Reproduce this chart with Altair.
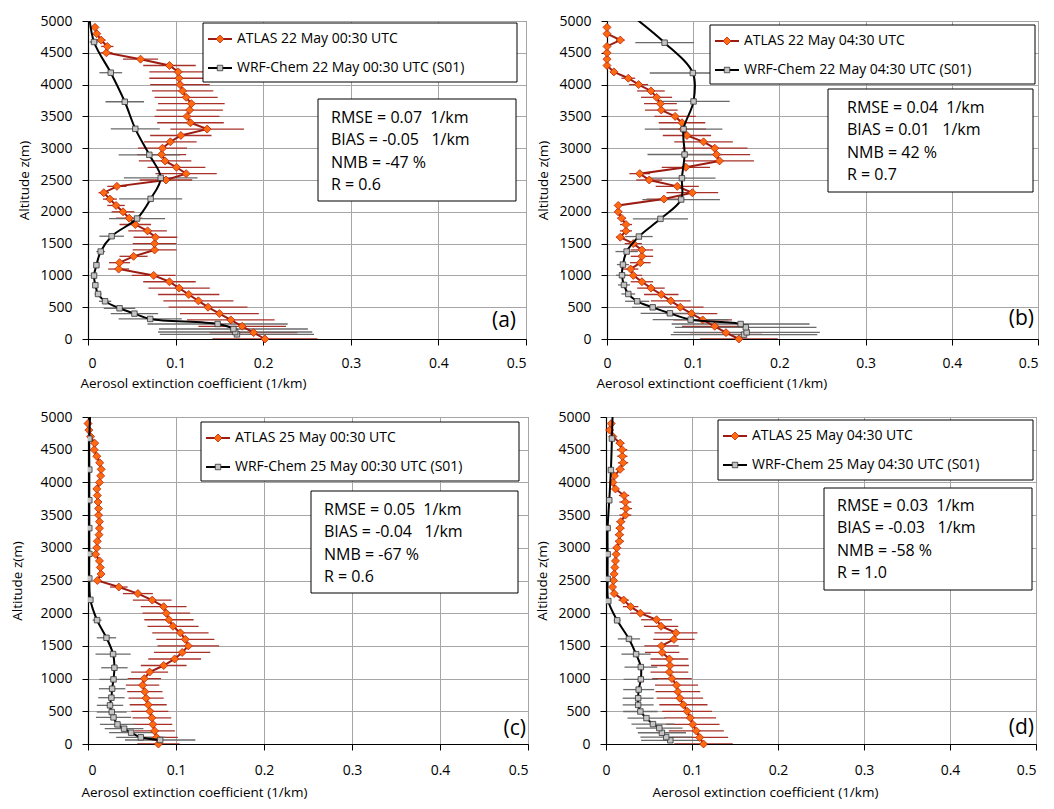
import altair as alt
import pandas as pd

FONT = "Open Sans"

# ---------------- data ----------------
ATLAS_ALT = [0, 100, 200, 300, 400, 500, 600, 700, 800, 900,
             1000, 1100, 1200, 1300, 1400, 1500, 1600, 1700, 1800, 1900,
             2000, 2100, 2200, 2300, 2400, 2500, 2600, 2700, 2800, 2900,
             3000, 3100, 3200, 3300, 3400, 3500, 3600, 3700, 3800, 3900,
             4000, 4100, 4200, 4300, 4400, 4500, 4600, 4700, 4800, 4900]

X_TICKS = [0, 0.1, 0.2, 0.3, 0.4, 0.5]
Y_TICKS = [0, 500, 1000, 1500, 2000, 2500, 3000, 3500, 4000, 4500, 5000]

# (a) 22 May 00:30 UTC
A_ATLAS = [0.202, 0.189, 0.176, 0.163, 0.150, 0.137, 0.126, 0.115, 0.104, 0.093,
           0.075, 0.035, 0.036, 0.052, 0.076, 0.076, 0.077, 0.068, 0.054, 0.047,
           0.040, 0.032, 0.025, 0.018, 0.033, 0.089, 0.112, 0.101, 0.088, 0.084,
           0.085, 0.094, 0.106, 0.136, 0.117, 0.113, 0.116, 0.118, 0.112, 0.108,
           0.105, 0.104, 0.103, 0.093, 0.060, 0.021, 0.022, 0.015, 0.010, 0.008]
A_ATLAS_ERR = [0.060, 0.050, 0.050, 0.050, 0.045, 0.045, 0.040, 0.035, 0.035, 0.030,
               0.025, 0.012, 0.012, 0.016, 0.025, 0.025, 0.025, 0.022, 0.018, 0.015,
               0.013, 0.010, 0.008, 0.006, 0.011, 0.030, 0.035, 0.033, 0.030, 0.028,
               0.028, 0.030, 0.035, 0.042, 0.038, 0.037, 0.038, 0.038, 0.036, 0.035,
               0.034, 0.034, 0.033, 0.030, 0.020, 0.007, 0.007, 0.005, 0.003, 0.003]
A_WRF_ALT = [73, 110, 157, 236, 315, 399, 483, 593, 708, 845, 997, 1160, 1375,
             1616, 1894, 2204, 2534, 2896, 3305, 3730, 4187, 4670, 5200]
A_WRF = [0.170, 0.168, 0.166, 0.148, 0.071, 0.053, 0.036, 0.0195, 0.0115, 0.0084,
         0.0069, 0.0096, 0.0145, 0.027, 0.056, 0.0715, 0.083, 0.070, 0.054, 0.042,
         0.026, 0.0069, 0.0005]
A_WRF_ERR = [0.088, 0.088, 0.085, 0.080, 0.036, 0.027, 0.018, 0.007, 0.004, 0.003,
             0.003, 0.003, 0.005, 0.014, 0.032, 0.036, 0.042, 0.035, 0.028, 0.022,
             0.013, 0.005, 0.0]

# (b) 22 May 04:30 UTC
B_ATLAS = [0.153, 0.138, 0.125, 0.111, 0.098, 0.085, 0.074, 0.063, 0.051, 0.0405,
           0.0305, 0.0274, 0.0386, 0.0405, 0.0405, 0.0305, 0.0154, 0.022, 0.022, 0.017,
           0.013, 0.013, 0.066, 0.099, 0.0815, 0.049, 0.038, 0.0915, 0.1305, 0.127,
           0.125, 0.112, 0.0927, 0.088, 0.087, 0.079, 0.063, 0.062, 0.0575, 0.051,
           0.0367, 0.0247, 0.008, 0.0, 0.0, 0.0, 0.0, 0.0154, 0.0, 0.0]
B_ATLAS_ERR = [0.045, 0.042, 0.038, 0.034, 0.030, 0.027, 0.023, 0.020, 0.016, 0.013,
               0.010, 0.009, 0.012, 0.013, 0.013, 0.010, 0.005, 0.007, 0.007, 0.005,
               0.004, 0.004, 0.020, 0.030, 0.025, 0.015, 0.012, 0.028, 0.040, 0.039,
               0.038, 0.034, 0.028, 0.027, 0.027, 0.024, 0.019, 0.019, 0.018, 0.016,
               0.011, 0.008, 0.003, 0.0, 0.0, 0.0, 0.0, 0.005, 0.0, 0.0]
B_WRF_ALT = [68, 105, 184, 236, 304, 404, 498, 593, 708, 850, 1002, 1170, 1375,
             1611, 1889, 2193, 2529, 2901, 3300, 3735, 4182, 4659, 5200]
B_WRF = [0.159, 0.162, 0.161, 0.155, 0.097, 0.073, 0.053, 0.035, 0.0247, 0.0197,
         0.0174, 0.0185, 0.0228, 0.037, 0.062, 0.086, 0.0869, 0.090, 0.0888, 0.1004,
         0.0996, 0.0668, 0.018]
B_WRF_ERR = [0.085, 0.085, 0.082, 0.080, 0.044, 0.034, 0.024, 0.014, 0.008, 0.007,
             0.007, 0.007, 0.013, 0.016, 0.032, 0.045, 0.039, 0.043, 0.045, 0.042,
             0.050, 0.034, 0.0]

# (c) 25 May 00:30 UTC
C_ATLAS = [0.080, 0.078, 0.0757, 0.0738, 0.0726, 0.0703, 0.0684, 0.066, 0.0646, 0.062,
           0.064, 0.070, 0.086, 0.0985, 0.107, 0.114, 0.1106, 0.105, 0.0966, 0.092,
           0.089, 0.086, 0.073, 0.0567, 0.035, 0.0106, 0.0148, 0.014, 0.013, 0.0087,
           0.010, 0.0106, 0.0125, 0.013, 0.013, 0.012, 0.012, 0.0114, 0.0106, 0.010,
           0.013, 0.0144, 0.015, 0.0133, 0.010, 0.007, 0.0076, 0.003, 0.001, 0.0]
C_ATLAS_ERR = [0.024, 0.024, 0.023, 0.022, 0.022, 0.021, 0.021, 0.020, 0.020, 0.019,
               0.019, 0.021, 0.026, 0.030, 0.032, 0.035, 0.033, 0.032, 0.029, 0.028,
               0.027, 0.026, 0.022, 0.017, 0.010, 0.003, 0.003, 0.003, 0.003, 0.003,
               0.003, 0.003, 0.003, 0.003, 0.003, 0.003, 0.003, 0.003, 0.003, 0.003,
               0.003, 0.003, 0.003, 0.003, 0.003, 0.002, 0.002, 0.001, 0.0, 0.0]
C_WRF_ALT = [61, 102, 173, 234, 300, 407, 489, 591, 708, 845, 988, 1166, 1375,
             1624, 1894, 2205, 2531, 2907, 3300, 3727, 4196, 4669, 5200]
C_WRF = [0.082, 0.060, 0.049, 0.041, 0.0335, 0.029, 0.027, 0.025, 0.0266, 0.0274,
         0.029, 0.030, 0.0285, 0.021, 0.0103, 0.0027, 0.0015, 0.0015, 0.0015, 0.0015,
         0.0015, 0.0015, 0.003]
C_WRF_ERR = [0.040, 0.028, 0.025, 0.022, 0.020, 0.020, 0.017, 0.015, 0.015, 0.015,
             0.016, 0.015, 0.020, 0.011, 0.005, 0.001, 0.0, 0.0, 0.0, 0.0,
             0.0, 0.0, 0.0]

# (d) 25 May 04:30 UTC
D_ATLAS = [0.1134, 0.109, 0.105, 0.101, 0.098, 0.0943, 0.090, 0.0859, 0.0836, 0.082,
           0.0767, 0.0737, 0.0744, 0.0737, 0.0653, 0.0645, 0.079, 0.0813, 0.064, 0.0588,
           0.040, 0.0286, 0.0206, 0.0095, 0.0076, 0.0088, 0.0095, 0.0103, 0.011, 0.0118,
           0.0126, 0.0156, 0.0156, 0.0164, 0.0172, 0.0225, 0.0233, 0.0225, 0.021, 0.011,
           0.008, 0.0099, 0.0164, 0.0198, 0.019, 0.0187, 0.0164, 0.008, 0.0042, 0.0061]
D_ATLAS_ERR = [0.034, 0.033, 0.032, 0.031, 0.030, 0.029, 0.028, 0.027, 0.026, 0.025,
               0.023, 0.022, 0.022, 0.022, 0.020, 0.020, 0.024, 0.025, 0.020, 0.018,
               0.012, 0.009, 0.006, 0.003, 0.002, 0.002, 0.003, 0.003, 0.003, 0.004,
               0.004, 0.005, 0.005, 0.005, 0.005, 0.007, 0.007, 0.007, 0.006, 0.003,
               0.002, 0.003, 0.005, 0.006, 0.006, 0.006, 0.005, 0.002, 0.001, 0.002]
D_WRF_ALT = [56, 106, 172, 243, 304, 396, 497, 598, 700, 832, 989, 1176, 1374,
             1607, 1891, 2186, 2525, 2901, 3301, 3727, 4189, 4670, 5200]
D_WRF = [0.0748, 0.070, 0.065, 0.062, 0.0546, 0.047, 0.040, 0.0374, 0.0374, 0.038,
         0.0405, 0.0405, 0.035, 0.0267, 0.013, 0.0027, 0.0019, 0.0019, 0.0019, 0.0038,
         0.0057, 0.0069, 0.008]
D_WRF_ERR = [0.034, 0.030, 0.028, 0.027, 0.025, 0.022, 0.020, 0.018, 0.018, 0.018,
             0.020, 0.019, 0.017, 0.013, 0.004, 0.001, 0.001, 0.001, 0.001, 0.001,
             0.001, 0.001, 0.0]

LEGEND_A = ["ATLAS 22 May 00:30 UTC", "WRF-Chem 22 May 00:30 UTC (S01)"]
LEGEND_B = ["ATLAS 22 May 04:30 UTC", "WRF-Chem 22 May 04:30 UTC (S01)"]
LEGEND_C = ["ATLAS 25 May 00:30 UTC", "WRF-Chem 25 May 00:30 UTC (S01)"]
LEGEND_D = ["ATLAS 25 May 04:30 UTC", "WRF-Chem 25 May 04:30 UTC (S01)"]

STATS_A = ["RMSE = 0.07  1/km", "BIAS = -0.05   1/km", "NMB = -47 %", "R = 0.6"]
STATS_B = ["RMSE = 0.04  1/km", "BIAS = 0.01   1/km", "NMB = 42 %", "R = 0.7"]
STATS_C = ["RMSE = 0.05  1/km", "BIAS = -0.04   1/km", "NMB = -67 %", "R = 0.6"]
STATS_D = ["RMSE = 0.03  1/km", "BIAS = -0.03   1/km", "NMB = -58 %", "R = 1.0"]

XTITLE_1 = "Aerosol extinction coefficient (1/km)"
XTITLE_2 = "Aerosol extinctiont coefficient (1/km)"
YTITLE = "Altitude z(m)"

# ---------------- styles ----------------
RED_LINE = "#9C1C12"
ORANGE = "#FF6A10"
DIAMOND_STROKE = "#B8260C"
ATLAS_ERR_C = "#A8322A"
WRF_ERR_C = "#6A6A6A"
SQUARE_FILL = "#C4C4C4"

ONE = pd.DataFrame({"k": [0]})

GA = dict(W=438, H=318, tx=-8, lx0=115, lx1=429, ly0=2, ly1=61, ytp=8, xlp=11, xtp=6,
          sx0=230, sx1=428, sy0=78, sy1=180, sty=97, stx=13, tagdx=10, tagdy=12, flush=False)
GB = dict(W=431, H=318, tx=-11, lx0=103, lx1=428, ly0=4, ly1=63, ytp=8, xlp=11, xtp=6,
          sx0=221, sx1=426, sy0=68, sy1=171, sty=87, stx=19, tagdx=4, tagdy=14, flush=True)
GC = dict(W=440, H=327, tx=-7, lx0=113, lx1=431, ly0=5, ly1=64, ytp=15, xlp=13, xtp=8,
          sx0=223, sx1=430, sy0=74, sy1=176, sty=93, stx=13, tagdx=2, tagdy=9, flush=False)
GD = dict(W=430, H=327, tx=46, lx0=112, lx1=427, ly0=3, ly1=63, ytp=8, xlp=13, xtp=8,
          sx0=218, sx1=426, sy0=71, sy1=173, sty=89, stx=13, tagdx=2, tagdy=10, flush=True)


def nb(s):
    return s.replace(" ", "\u00a0")


def panel(atlas, atlas_err, wrf_alt, wrf, wrf_err, legend, stats, tag, xtitle, g):
    W, H = g["W"], g["H"]
    da = pd.DataFrame({
        "alt": ATLAS_ALT, "x": atlas,
        "lo": [v - e for v, e in zip(atlas, atlas_err)],
        "hi": [v + e for v, e in zip(atlas, atlas_err)],
    })
    dw = pd.DataFrame({
        "alt": wrf_alt, "x": wrf,
        "lo": [v - e for v, e in zip(wrf, wrf_err)],
        "hi": [v + e for v, e in zip(wrf, wrf_err)],
    })
    xs = alt.Scale(domain=[0, 0.5], nice=False, zero=False)
    ys = alt.Scale(domain=[0, 5000], nice=False)
    xkw = dict(values=X_TICKS, format="~g", title=xtitle, titleX=g["tx"], titleAlign="left",
               labelPadding=g["xlp"], titlePadding=g["xtp"])
    if g["flush"]:
        xkw["labelAlign"] = {"condition": {"test": "datum.value >= 0.5", "value": "right"},
                             "value": "center"}
    xax = alt.Axis(**xkw)
    yax = alt.Axis(values=Y_TICKS, format="d", title=YTITLE, titlePadding=g["ytp"])

    def X(f):
        return alt.X(f"{f}:Q", scale=xs, axis=xax)

    Y = alt.Y("alt:Q", scale=ys, axis=yax)

    a_err = alt.Chart(da).mark_rule(color=ATLAS_ERR_C, strokeWidth=1.3, clip=True).encode(
        x=X("lo"), x2="hi:Q", y=Y)
    w_err = alt.Chart(dw).mark_rule(color=WRF_ERR_C, strokeWidth=1.3, clip=True).encode(
        x=X("lo"), x2="hi:Q", y=Y)
    a_line = alt.Chart(da).mark_line(color=RED_LINE, strokeWidth=2).encode(
        x=X("x"), y=Y, order="alt:Q")
    a_pts = alt.Chart(da).mark_point(shape="diamond", filled=True, fill=ORANGE,
                                     stroke=DIAMOND_STROKE, strokeWidth=0.8,
                                     size=64, opacity=1).encode(x=X("x"), y=Y)
    w_line = alt.Chart(dw).mark_line(color="black", strokeWidth=2,
                                     interpolate="catmull-rom", clip=True).encode(
        x=X("x"), y=Y, order="alt:Q")
    w_pts = alt.Chart(dw).mark_point(shape="square", filled=True, fill=SQUARE_FILL,
                                     stroke="#333333", strokeWidth=0.8, size=30,
                                     opacity=1, clip=True).encode(x=X("x"), y=Y)

    lx0, lx1, ly0, ly1 = g["lx0"], g["lx1"], g["ly0"], g["ly1"]
    l1, l2 = ly0 + 16, ly0 + 45
    leg = [
        alt.Chart(ONE).mark_rect(fill="white", stroke="black", strokeWidth=1).encode(
            x=alt.value(lx0), x2=alt.value(lx1), y=alt.value(ly0), y2=alt.value(ly1)),
        alt.Chart(ONE).mark_rule(color=RED_LINE, strokeWidth=2).encode(
            x=alt.value(lx0 + 5), x2=alt.value(lx0 + 29), y=alt.value(l1)),
        alt.Chart(ONE).mark_point(shape="diamond", filled=True, fill=ORANGE,
                                  stroke=DIAMOND_STROKE, strokeWidth=0.8, size=64,
                                  opacity=1).encode(x=alt.value(lx0 + 17), y=alt.value(l1)),
        alt.Chart(ONE).mark_text(align="left", baseline="middle", fontSize=14).encode(
            x=alt.value(lx0 + 34), y=alt.value(l1), text=alt.value(legend[0])),
        alt.Chart(ONE).mark_rule(color="black", strokeWidth=2).encode(
            x=alt.value(lx0 + 5), x2=alt.value(lx0 + 29), y=alt.value(l2)),
        alt.Chart(ONE).mark_point(shape="square", filled=True, fill=SQUARE_FILL,
                                  stroke="#333333", strokeWidth=0.8, size=30,
                                  opacity=1).encode(x=alt.value(lx0 + 17), y=alt.value(l2)),
        alt.Chart(ONE).mark_text(align="left", baseline="middle", fontSize=14).encode(
            x=alt.value(lx0 + 34), y=alt.value(l2), text=alt.value(legend[1])),
    ]
    st = [alt.Chart(ONE).mark_rect(fill="white", stroke="black", strokeWidth=1).encode(
        x=alt.value(g["sx0"]), x2=alt.value(g["sx1"]),
        y=alt.value(g["sy0"]), y2=alt.value(g["sy1"]))]
    for i, s in enumerate(stats):
        st.append(alt.Chart(ONE).mark_text(align="left", baseline="middle", fontSize=16).encode(
            x=alt.value(g["sx0"] + g["stx"]), y=alt.value(g["sty"] + i * 22.3),
            text=alt.value(nb(s))))
    tg = alt.Chart(ONE).mark_text(align="right", baseline="alphabetic", fontSize=21).encode(
        x=alt.value(W - g["tagdx"]), y=alt.value(H - g["tagdy"]), text=alt.value(tag))

    return alt.layer(a_err, w_err, a_line, a_pts, w_line, w_pts, *leg, *st, tg).properties(
        width=W, height=H)


pa = panel(A_ATLAS, A_ATLAS_ERR, A_WRF_ALT, A_WRF, A_WRF_ERR, LEGEND_A, STATS_A, "(a)", XTITLE_1, GA)
pb = panel(B_ATLAS, B_ATLAS_ERR, B_WRF_ALT, B_WRF, B_WRF_ERR, LEGEND_B, STATS_B, "(b)", XTITLE_2, GB)
pc = panel(C_ATLAS, C_ATLAS_ERR, C_WRF_ALT, C_WRF, C_WRF_ERR, LEGEND_C, STATS_C, "(c)", XTITLE_1, GC)
pd_ = panel(D_ATLAS, D_ATLAS_ERR, D_WRF_ALT, D_WRF, D_WRF_ERR, LEGEND_D, STATS_D, "(d)", XTITLE_1, GD)

top = alt.hconcat(pa, pb, spacing=9)
bottom = alt.hconcat(pc, pd_, spacing=6)

chart = alt.vconcat(top, bottom, spacing=19).properties(
    padding={"left": 2, "top": 5, "right": 0, "bottom": 0}
).configure(font=FONT).configure_view(
    stroke="#555555", strokeWidth=1
).configure_axis(
    grid=True, gridColor="#A6A6A6", gridWidth=1,
    domainColor="black", domainWidth=1.2,
    tickColor="black", tickSize=6, tickWidth=1,
    labelFont=FONT, labelFontSize=14, labelColor="black",
    titleFont=FONT, titleFontSize=13.5, titleFontWeight="normal", titleColor="black",
).configure_axisY(
    labelPadding=10
)

chart.save("out.html", embed_options={"renderer": "svg", "actions": False})
